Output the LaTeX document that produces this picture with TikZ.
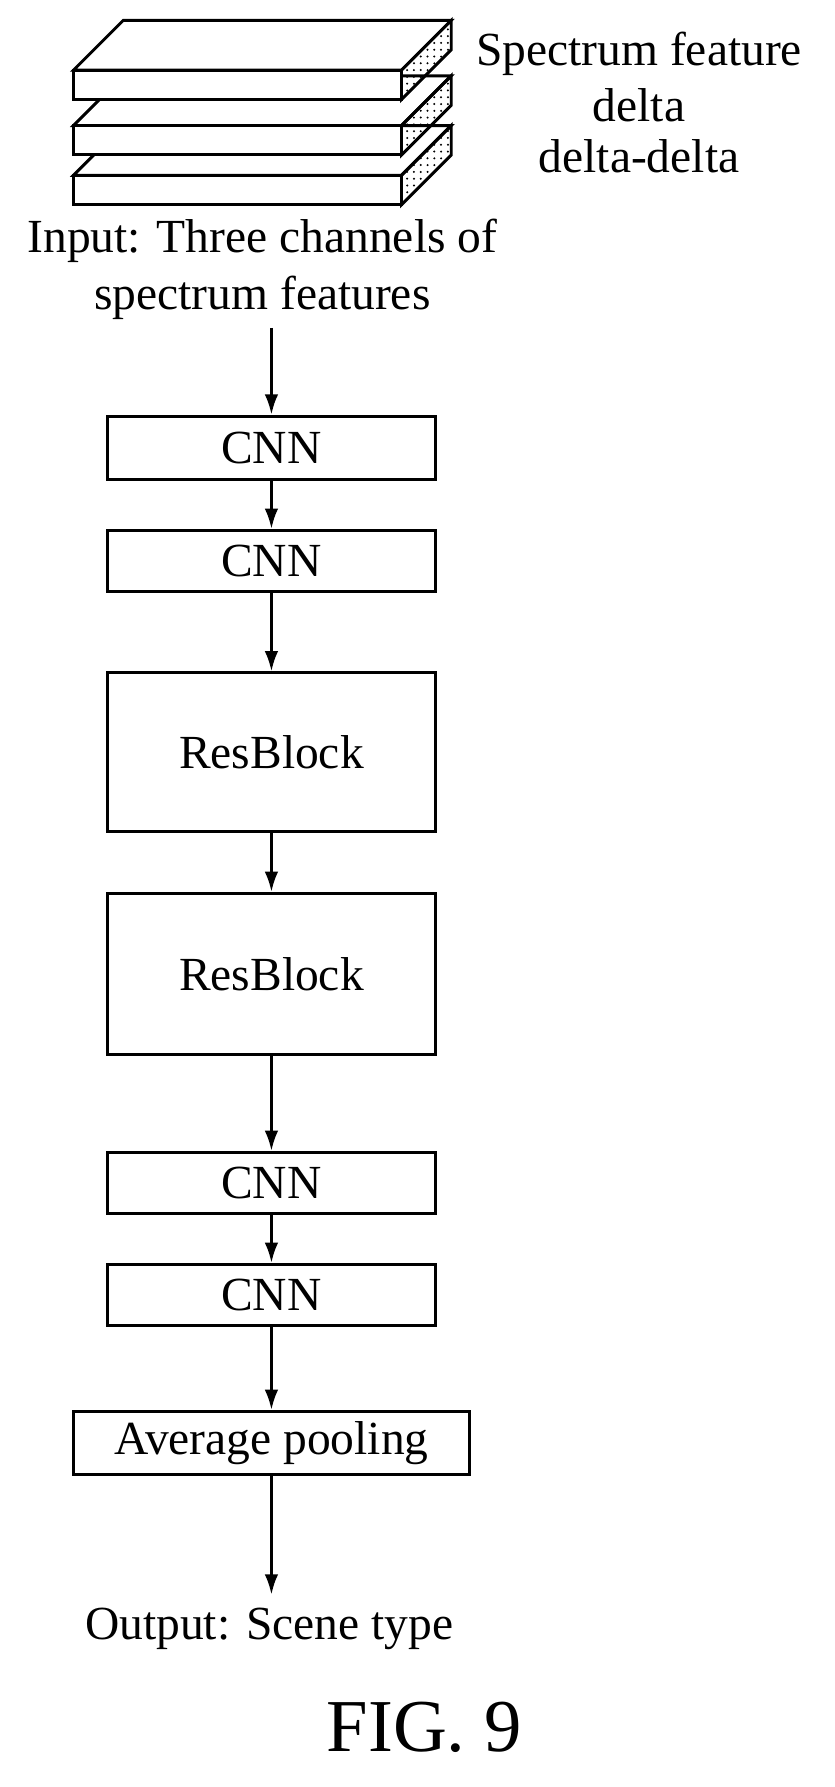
\documentclass[tikz,border=0pt]{standalone}
\usepackage{fontspec}
\setmainfont{Liberation Serif}
\usetikzlibrary{positioning,patterns,arrows.meta}
\tikzset{%
  flow/.style = {-{Latex[length=9pt,width=6pt]},line width=1.3pt},
  blk/.style = {rectangle,draw,line width=1.3pt,minimum width=145pt,
        font=\fontsize{21}{25}\selectfont},
  lbl/.style = {font=\fontsize{21}{25}\selectfont,align=center},
  slab/.style = {line width=1.3pt,fill=white}
}
\begin{document}
\begin{tikzpicture}[x=0.5pt,y=-0.5pt]
\useasboundingbox (0,0) rectangle (738,1580);
% stacked feature channels
\foreach \y in {155,111,62}{
  \draw[slab] (65,\y) -- (109,\y-44) -- (399,\y-44) -- (355,\y) -- cycle;
  \draw[slab] (65,\y) rectangle (355,\y+26);
  \draw[slab,pattern=dots] (355,\y) -- (399,\y-44) -- (399,\y-18) -- (355,\y+26) -- cycle;
}
\node[lbl] (spec) at (565,48) {Spectrum feature};
\node[lbl] (delta) at (565,93) {delta};
\node[lbl] (dd) at (565,138) {delta-delta};
\node[lbl] (input) at (232,238) {Input: Three channels of\\spectrum features};
% network
\node[blk,minimum height=28pt] (cnn1) at (240,396) {CNN};
\node[blk,minimum height=27pt] (cnn2) at (240,496) {CNN};
\node[blk,minimum height=70pt] (res1) at (240,665) {ResBlock};
\node[blk,minimum height=71pt] (res2) at (240,861) {ResBlock};
\node[blk,minimum height=27pt] (cnn3) at (240,1046) {CNN};
\node[blk,minimum height=27pt] (cnn4) at (240,1145) {CNN};
\node[blk,minimum width=175pt,minimum height=28pt] (pool) at (240,1276) {Average pooling};
\node[lbl] (out) at (238,1440) {Output: Scene type};
\node[font=\fontsize{33}{38}\selectfont] (fig) at (375,1527) {FIG. 9};
\coordinate (top) at (240,290);
\coordinate (end) at (240,1410);
\draw[flow] (top) -- (cnn1);
\draw[flow] (cnn1) -- (cnn2);
\draw[flow] (cnn2) -- (res1);
\draw[flow] (res1) -- (res2);
\draw[flow] (res2) -- (cnn3);
\draw[flow] (cnn3) -- (cnn4);
\draw[flow] (cnn4) -- (pool);
\draw[flow] (pool) -- (end);
\end{tikzpicture}
\end{document}
